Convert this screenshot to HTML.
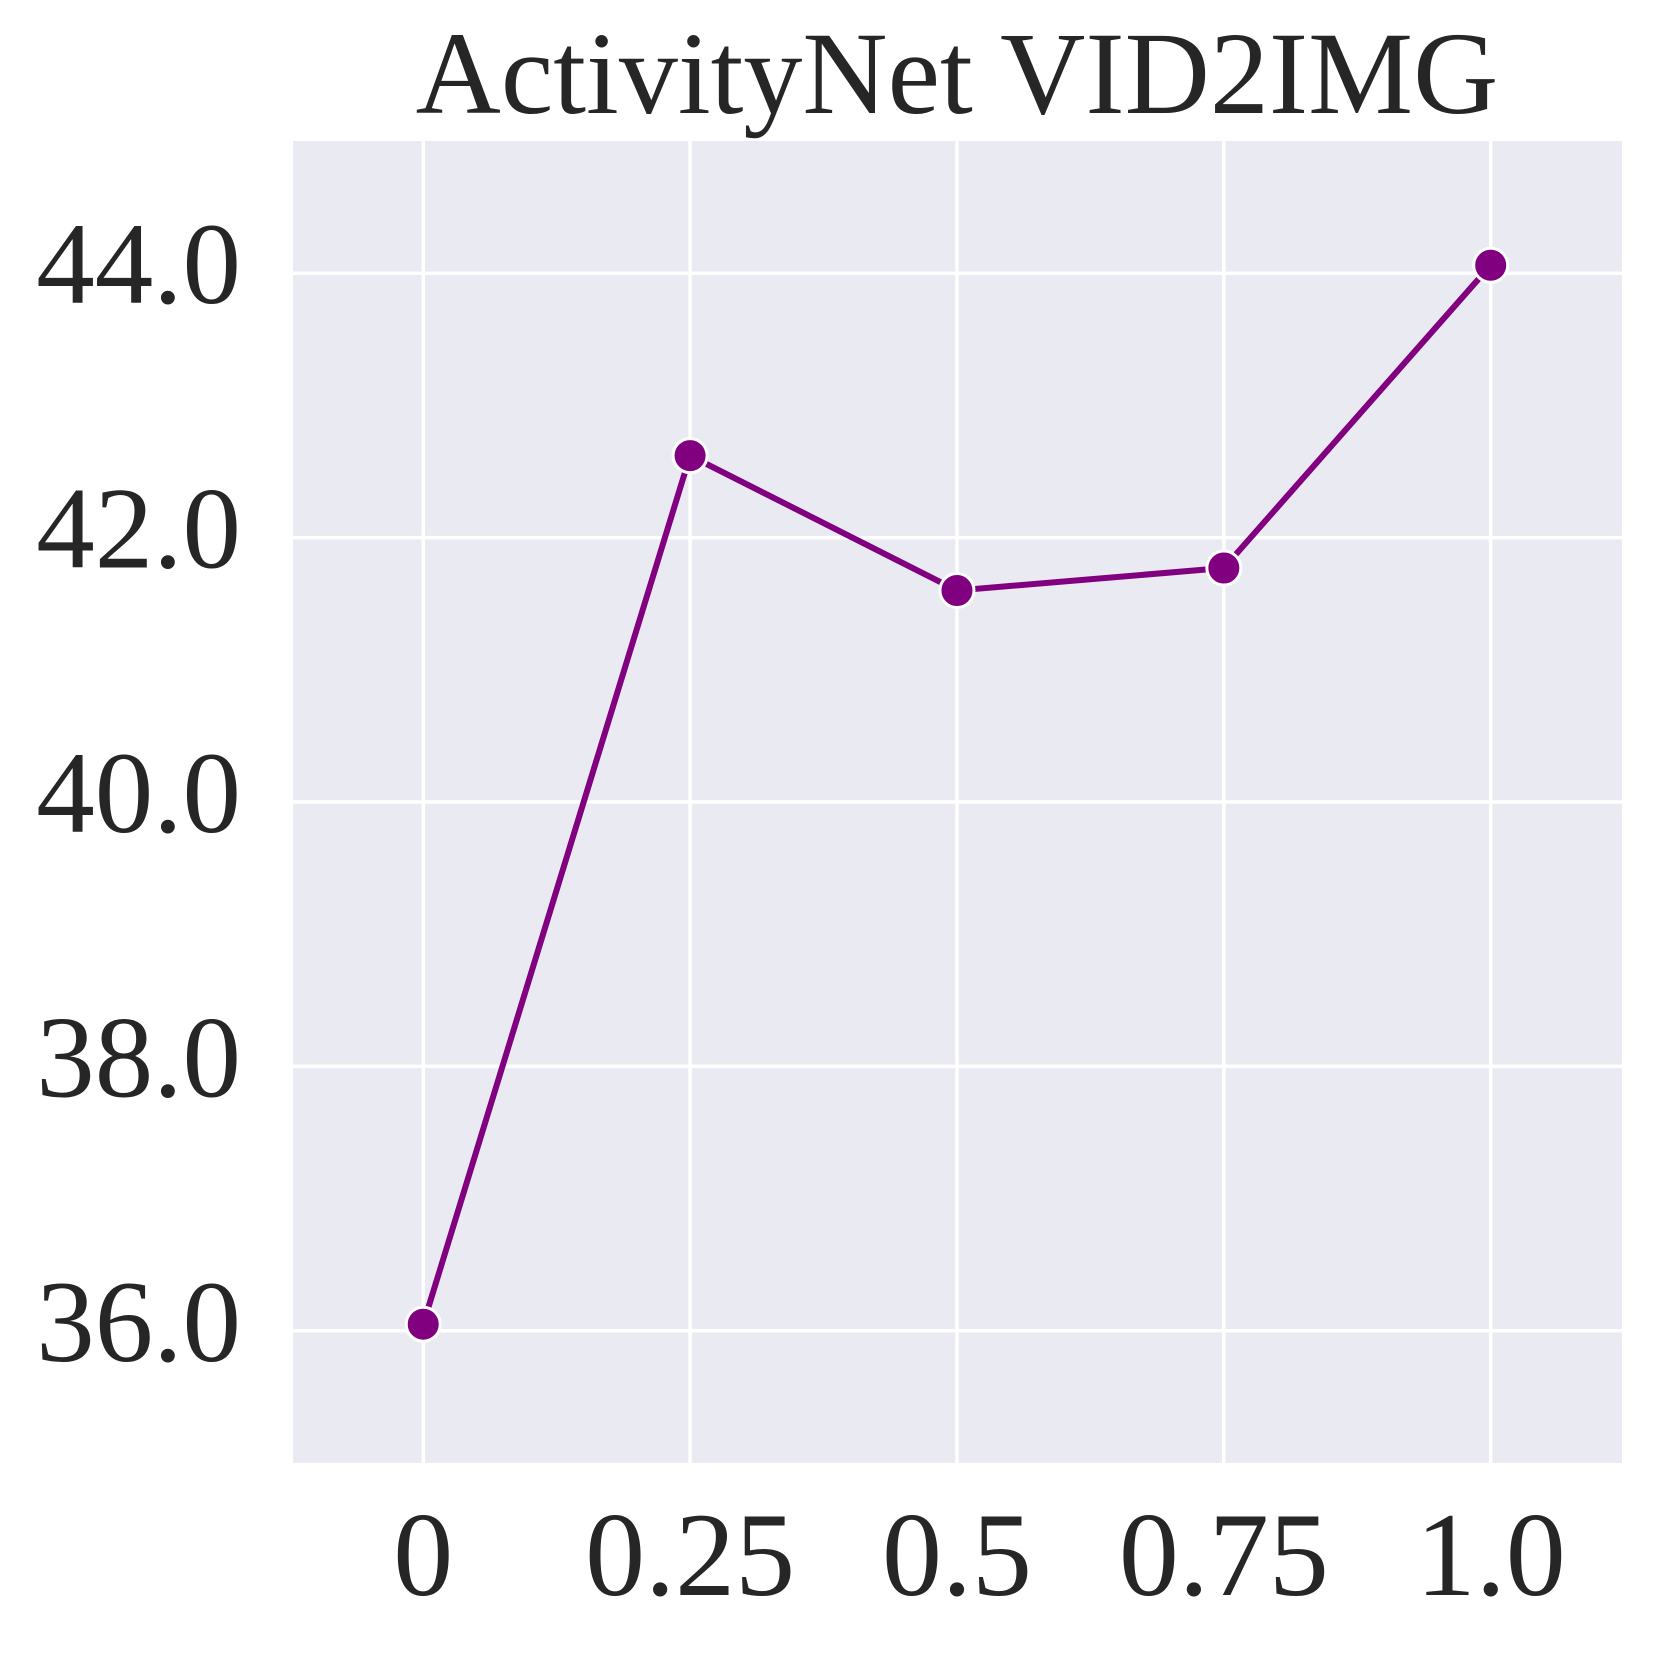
<!DOCTYPE html>
<html><head><meta charset="utf-8"><style>
body{margin:0;background:#fff}
text{font-family:"Liberation Serif",serif;fill:#262626}
</style></head><body>
<svg width="1659" height="1656" xmlns="http://www.w3.org/2000/svg">
<g id="root"></g>
</svg>
<script>
const categories=["0","0.25","0.5","0.75","1.0"];
const xValues=[0,0.25,0.5,0.75,1.0];
const seriesValues=[36.05,42.62,41.6,41.77,44.06];
const yTicks=[36,38,40,42,44];
const yTickLabels=["36.0","38.0","40.0","42.0","44.0"];
const L=293,R=1622,T=141,B=1463;
const xMin=-0.122,xMax=1.123,yMin=35,yMax=45;
const xs=v=>L+(v-xMin)/(xMax-xMin)*(R-L);
const ys=v=>B-(v-yMin)/(yMax-yMin)*(B-T);
const NS="http://www.w3.org/2000/svg",g=document.getElementById('root');
function mk(t,a,txt){const e=document.createElementNS(NS,t);for(const k in a)e.setAttribute(k,a[k]);if(txt!=null)e.textContent=txt;g.appendChild(e);return e;}
let e=mk('rect',{x:L,y:T,width:R-L,height:B-T,fill:'#eaeaf2'});


yTicks.forEach((v,i)=>{
 let l=mk('line',{x1:L,x2:R,y1:ys(v),y2:ys(v),stroke:'#fff','stroke-width':3.5});
 
 
 let t=mk('text',{x:241,y:ys(v)+30,'text-anchor':'end','font-size':117},yTickLabels[i]);
 
 
});
xValues.forEach((v,i)=>{
 let l=mk('line',{x1:xs(v),x2:xs(v),y1:T,y2:B,stroke:'#fff','stroke-width':3.5});
 
 
 let t=mk('text',{x:xs(v),y:1595,'text-anchor':'middle','font-size':120},categories[i]);
 
 
});
let p=mk('polyline',{points:xValues.map((v,i)=>xs(v)+','+ys(seriesValues[i])).join(' '),fill:'none',stroke:'#800080','stroke-width':6});


xValues.forEach((v,i)=>{
 let c=mk('circle',{cx:xs(v),cy:ys(seriesValues[i]),r:17,fill:'#800080',stroke:'#fff','stroke-width':3});
 
 
});
let ti=mk('text',{x:957,y:113,'text-anchor':'middle','font-size':118},'ActivityNet VID2IMG');


</script>
</body></html>
